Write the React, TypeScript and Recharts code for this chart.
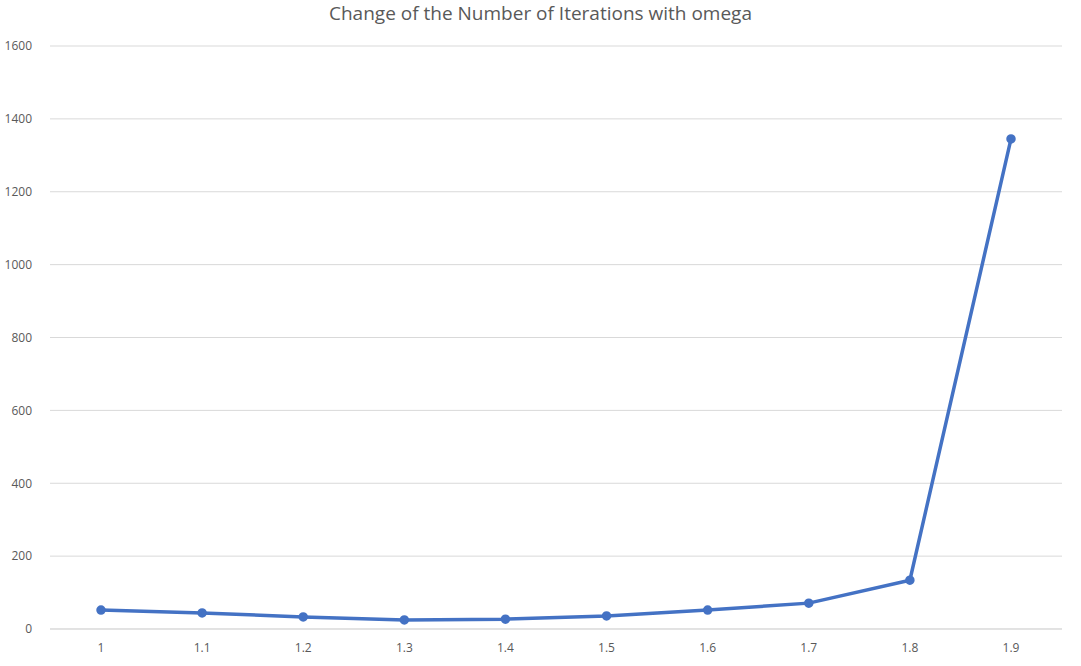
import { LineChart, Line, XAxis, YAxis, CartesianGrid } from "recharts";

const omegas = ["1", "1.1", "1.2", "1.3", "1.4", "1.5", "1.6", "1.7", "1.8", "1.9"];
const iterations = [52, 44, 33, 25, 27, 36, 52, 71, 134, 1345];
const yTicks = [0, 200, 400, 600, 800, 1000, 1200, 1400, 1600];

const data = omegas.map((o, i) => ({ omega: o, iterations: iterations[i] }));

const tickStyle = { fontSize: 12, fill: "#595959", fontFamily: "Open Sans, sans-serif" };

export default function App() {
  return (
    <div
      style={{
        position: "absolute",
        left: 0,
        top: 0,
        width: 1081,
        height: 666,
        background: "#fff",
        fontFamily: "Open Sans, sans-serif",
      }}
    >
      <div
        style={{
          position: "absolute",
          top: 0,
          width: 1081,
          textAlign: "center",
          fontSize: 19,
          color: "#595959",
          lineHeight: "26px",
        }}
      >
        Change of the Number of Iterations with omega
      </div>
      <LineChart
        width={1081}
        height={666}
        data={data}
        margin={{ top: 46, right: 19, bottom: 7, left: 0 }}
      >
        <CartesianGrid vertical={false} stroke="#d9d9d9" />
        <XAxis
          dataKey="omega"
          axisLine={{ stroke: "#d9d9d9" }}
          tickLine={false}
          tick={tickStyle}
          tickMargin={8}
          height={30}
          padding={{ left: 51, right: 51 }}
        />
        <YAxis
          domain={[0, 1600]}
          ticks={yTicks}
          axisLine={false}
          tickLine={false}
          tick={tickStyle}
          width={50}
          tickMargin={12}
        />
        <Line
          type="linear"
          dataKey="iterations"
          stroke="#4472C4"
          strokeWidth={3.5}
          dot={{ r: 3, fill: "#4472C4", stroke: "#4472C4" }}
          isAnimationActive={false}
        />
      </LineChart>
    </div>
  );
}
